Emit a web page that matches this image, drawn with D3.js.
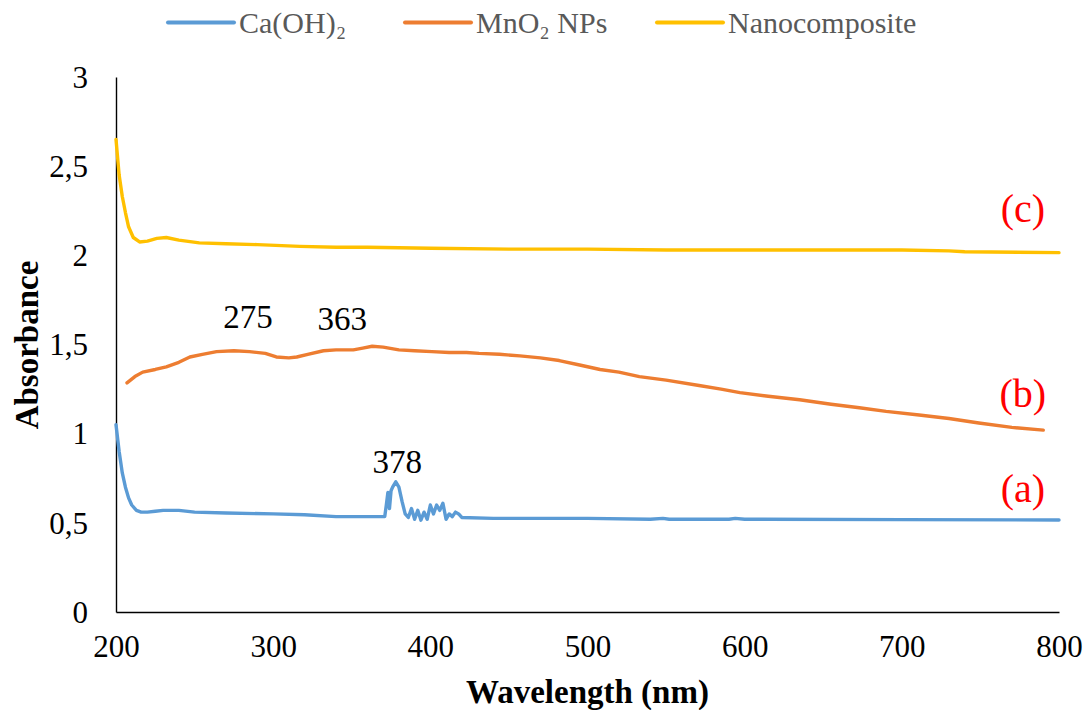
<!DOCTYPE html>
<html><head><meta charset="utf-8">
<script src="https://cdn.jsdelivr.net/npm/d3@7"></script>
<style>body{margin:0;background:#fff}svg{display:block}</style>
</head><body>
<script>
const xTicks = [200,300,400,500,600,700,800];
const yTicks = [0,0.5,1,1.5,2,2.5,3];
const yTickLabels = ["0","0,5","1","1,5","2","2,5","3"];
const seriesNames = ["Ca(OH)\u2082","MnO\u2082  NPs","Nanocomposite"];
const seriesColors = ["#5B9BD5","#ED7D31","#FFC000"];

const caWl  = [200,202,204,206,208,210,213,216,220,225,230,240,250,270,300,320,340,360,371,372,373,374,375,376,378,380,382,384,386,388,390,392,394,396,398,400,402,404,406,408,410,412,414,416,418,420,440,480,500,540,548,552,560,590,594,600,700,800];
const caAbs = [1.05,0.90,0.78,0.70,0.64,0.60,0.57,0.56,0.56,0.565,0.57,0.57,0.56,0.555,0.55,0.545,0.535,0.535,0.535,0.60,0.67,0.58,0.68,0.70,0.73,0.70,0.62,0.55,0.53,0.58,0.52,0.57,0.515,0.56,0.52,0.60,0.55,0.60,0.57,0.61,0.52,0.55,0.535,0.56,0.55,0.53,0.525,0.525,0.525,0.52,0.525,0.52,0.52,0.52,0.525,0.52,0.518,0.516];

const mnWl  = [207,212,217,225,232,240,247,255,264,275,285,295,302,310,315,322,332,340,351,357,363,370,380,390,401,412,423,431,444,457,470,482,495,508,520,533,550,571,585,597,615,635,655,673,690,711,730,749,770,790];
const mnAbs = [1.285,1.32,1.345,1.36,1.375,1.40,1.43,1.445,1.46,1.465,1.46,1.45,1.43,1.425,1.43,1.445,1.465,1.47,1.47,1.48,1.49,1.485,1.47,1.465,1.46,1.455,1.455,1.45,1.445,1.436,1.425,1.41,1.385,1.36,1.345,1.32,1.30,1.27,1.25,1.23,1.21,1.19,1.165,1.145,1.125,1.105,1.085,1.06,1.035,1.02];

const ncWl  = [200,202,204,206,208,211,215,220,226,232,240,253,270,290,317,340,360,400,450,500,550,600,650,700,730,740,800];
const ncAbs = [2.65,2.45,2.33,2.24,2.16,2.10,2.075,2.08,2.095,2.10,2.085,2.07,2.065,2.06,2.05,2.045,2.045,2.04,2.035,2.035,2.03,2.03,2.03,2.03,2.025,2.02,2.015];

// annotation anchors (wavelength, absorbance of text baseline)
const peakLabels = ["275","363","378"];
const peakLabelWl = [284,344,379];
const peakLabelAbs = [1.593,1.582,0.78];
const curveLabels = ["(c)","(b)","(a)"];
const curveLabelWl = [777,777,777];
const curveLabelAbs = [2.187,1.15,0.617];

const FONT = '"Liberation Serif", "Times New Roman", serif';
const W=1087,H=710;
const m={left:116,right:1059,top:77,bottom:612};
const x=d3.scaleLinear().domain([200,800]).range([m.left,m.right]);
const y=d3.scaleLinear().domain([0,3]).range([m.bottom,m.top]);

const svg=d3.select("body").append("svg").attr("width",W).attr("height",H);

// axes
const xAxis=svg.append("g").attr("transform",`translate(0,${m.bottom})`)
  .call(d3.axisBottom(x).tickValues(xTicks).tickSize(0).tickFormat(d3.format("d")));
xAxis.select(".domain").attr("stroke","#000").attr("stroke-width",1.4);
xAxis.selectAll("text").style("font-family",FONT).attr("font-size",31).attr("fill","#000").attr("y",45).attr("dy",0);

const yAxis=svg.append("g").attr("transform",`translate(${m.left},0)`)
  .call(d3.axisLeft(y).tickValues(yTicks).tickSize(0).tickFormat((d,i)=>yTickLabels[i]));
yAxis.select(".domain").attr("stroke","#000").attr("stroke-width",1.4);
yAxis.selectAll("text").style("font-family",FONT).attr("font-size",31).attr("fill","#000").attr("x",-28).attr("dy","0.33em");

// axis titles
svg.append("text").style("font-family",FONT).attr("x",(m.left+m.right)/2).attr("y",703).attr("text-anchor","middle")
  .attr("font-weight","bold").attr("font-size",33).text("Wavelength (nm)");
svg.append("text").style("font-family",FONT).attr("transform",`translate(38,345) rotate(-90)`).attr("text-anchor","middle")
  .attr("font-weight","bold").attr("font-size",33).text("Absorbance");

// lines
const line=d3.line().x(d=>x(d[0])).y(d=>y(d[1])).curve(d3.curveLinear);
const series=[[caWl,caAbs],[mnWl,mnAbs],[ncWl,ncAbs]];
series.forEach((s,i)=>{
  const pts=s[0].map((w,j)=>[w,s[1][j]]);
  svg.append("path").datum(pts).attr("d",line).attr("fill","none")
    .attr("stroke",seriesColors[i]).attr("stroke-width",3.4).attr("stroke-linejoin","round").attr("stroke-linecap","round");
});

// peak labels
peakLabels.forEach((t,i)=>{
  svg.append("text").style("font-family",FONT).attr("x",x(peakLabelWl[i])).attr("y",y(peakLabelAbs[i])).attr("text-anchor","middle")
    .attr("font-size",33).attr("fill","#000").text(t);
});
// curve labels
curveLabels.forEach((t,i)=>{
  svg.append("text").style("font-family",FONT).attr("x",x(curveLabelWl[i])).attr("y",y(curveLabelAbs[i])).attr("text-anchor","middle")
    .attr("font-size",40).attr("fill","#FF0000").text(t);
});

// legend
const legX=[168,405,657];
seriesNames.forEach((n,i)=>{
  svg.append("line").attr("x1",legX[i]).attr("x2",legX[i]+66).attr("y1",22.5).attr("y2",22.5)
    .attr("stroke",seriesColors[i]).attr("stroke-width",4).attr("stroke-linecap","round");
  svg.append("text").style("font-family",FONT).attr("x",legX[i]+71).attr("y",33).attr("font-size",30).attr("fill","#595959").text(n);
});
</script>
</body></html>
